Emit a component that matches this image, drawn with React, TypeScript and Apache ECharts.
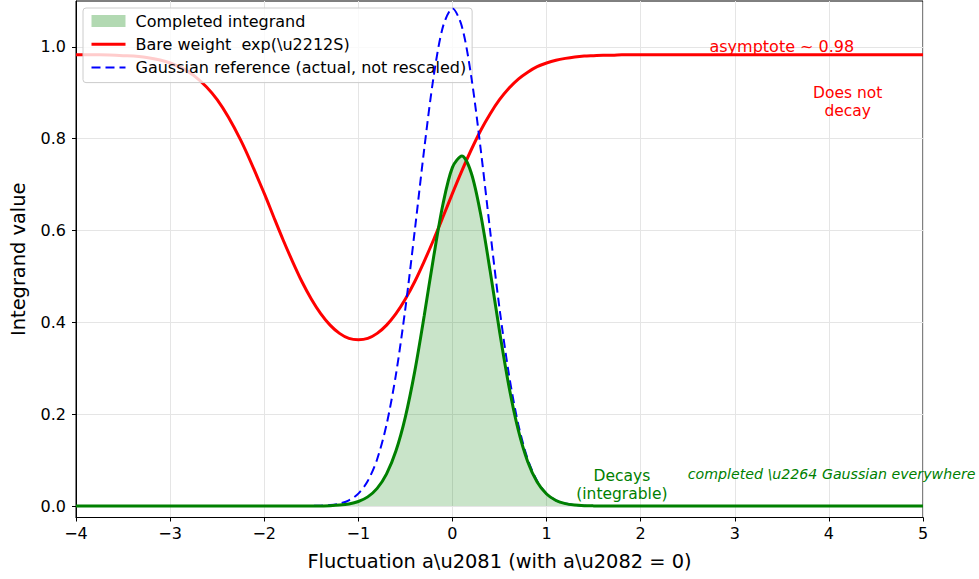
import React, { useEffect, useRef } from 'react';
import * as echarts from 'echarts';

// Fluctuation a1 sample positions
const xs = [
  -4, -3.75, -3.5, -3.25, -3, -2.75, -2.5, -2.25,
  -2, -1.9, -1.8, -1.7, -1.6, -1.5, -1.4, -1.3, -1.2, -1.1,
  -1, -0.9, -0.8, -0.7, -0.6, -0.5, -0.4, -0.3, -0.2, -0.1,
  0, 0.1, 0.2, 0.3, 0.4, 0.5, 0.6, 0.7, 0.8, 0.9,
  1, 1.1, 1.2, 1.3, 1.4, 1.5, 1.6, 1.7, 1.8, 1.9,
  2, 2.25, 2.5, 2.75, 3, 3.5, 4, 4.5, 5,
];

// Bare weight exp(-S)
const bareWeight = [
  0.983, 0.983, 0.981, 0.977, 0.965, 0.938, 0.885, 0.797,
  0.681, 0.630, 0.580, 0.533, 0.489, 0.451, 0.419, 0.394, 0.376, 0.365,
  0.362, 0.365, 0.376, 0.394, 0.419, 0.451, 0.489, 0.533, 0.580, 0.630,
  0.681, 0.730, 0.776, 0.818, 0.854, 0.885, 0.910, 0.930, 0.945, 0.957,
  0.965, 0.971, 0.975, 0.978, 0.980, 0.981, 0.982, 0.982, 0.983, 0.983,
  0.983, 0.983, 0.983, 0.983, 0.983, 0.983, 0.983, 0.983, 0.983,
];

// Gaussian reference (actual, not rescaled)
const gaussianRef = [
  0, 0, 0, 0, 0, 0, 0, 0,
  0, 0, 0, 0, 0.0001, 0.0003, 0.0008, 0.0021, 0.0053, 0.0124,
  0.027, 0.0545, 0.102, 0.1775, 0.2868, 0.4307, 0.6004, 0.7775, 0.9352, 1.0447,
  1.084, 1.0447, 0.9352, 0.7775, 0.6004, 0.4307, 0.2868, 0.1775, 0.102, 0.0545,
  0.027, 0.0124, 0.0053, 0.0021, 0.0008, 0.0003, 0.0001, 0, 0, 0,
  0, 0, 0, 0, 0, 0, 0, 0, 0,
];

// Completed integrand
const completed = [
  0, 0, 0, 0, 0, 0, 0, 0,
  0, 0, 0, 0, 0, 0.0001, 0.0003, 0.0008, 0.002, 0.0045,
  0.0098, 0.0199, 0.0384, 0.07, 0.1203, 0.1943, 0.2938, 0.4143, 0.5426, 0.6583,
  0.7377, 0.7623, 0.7255, 0.6356, 0.5127, 0.3811, 0.261, 0.1651, 0.0964, 0.0521,
  0.0261, 0.0121, 0.0052, 0.0021, 0.0008, 0.0003, 0.0001, 0, 0, 0,
  0, 0, 0, 0, 0, 0, 0, 0, 0,
];

const yTicks = [0, 0.2, 0.4, 0.6, 0.8, 1.0];

const FONT = 'DejaVu Sans';
const NAME_FILL = 'Completed integrand';
const NAME_RED = 'Bare weight  exp(\\u2212S)';
const NAME_BLUE = 'Gaussian reference (actual, not rescaled)';
const DASH = [9, 5];

export default function App() {
  const ref = useRef<HTMLDivElement>(null);
  useEffect(() => {
    const chart = echarts.init(ref.current as HTMLDivElement, null, { renderer: 'svg' });
    const pair = (ys: number[]) => xs.map((x, i) => [x, ys[i]]);
    chart.setOption({
      animation: false,
      backgroundColor: '#ffffff',
      textStyle: { fontFamily: FONT },
      grid: {
        left: 76, right: 56, top: 1, bottom: 61.5,
        show: true, borderColor: '#000', borderWidth: 1, backgroundColor: 'transparent',
      },
      xAxis: {
        type: 'value', min: -4, max: 5, interval: 1,
        axisLine: { show: true, onZero: false, lineStyle: { color: '#000', width: 1 } },
        axisTick: { show: true, inside: false, length: 4, lineStyle: { color: '#000', width: 1 } },
        axisLabel: {
          color: '#000', fontSize: 16, fontFamily: FONT, margin: 8,
          formatter: (v: number) => String(v).replace('-', '\u2212'),
        },
        splitLine: { show: true, lineStyle: { color: '#e5e5e5', width: 1 } },
        name: 'Fluctuation a\\u2081 (with a\\u2082 = 0)',
        nameLocation: 'middle', nameGap: 34,
        nameTextStyle: { fontSize: 19.4, color: '#000', fontFamily: FONT },
      },
      yAxis: {
        type: 'value', min: -0.025, max: 1.1,
        axisLine: { show: true, onZero: false, lineStyle: { color: '#000', width: 1 } },
        axisTick: { show: true, inside: false, length: 4, customValues: yTicks, lineStyle: { color: '#000', width: 1 } },
        axisLabel: {
          color: '#000', fontSize: 16, fontFamily: FONT, margin: 10, customValues: yTicks,
          formatter: (v: number) => v.toFixed(1),
        },
        splitLine: { show: true, lineStyle: { color: '#e5e5e5', width: 1 } },
        name: 'Integrand value',
        nameLocation: 'middle', nameGap: 48,
        nameTextStyle: { fontSize: 19.4, color: '#000', fontFamily: FONT },
      },
      legend: {
        orient: 'vertical', left: 83, top: 8,
        itemWidth: 34, itemHeight: 12, itemGap: 7.3,
        padding: [5, 6, 7, 7],
        backgroundColor: 'rgba(255,255,255,0.8)',
        borderColor: '#cccccc', borderWidth: 1, borderRadius: 3,
        textStyle: { fontSize: 16, color: '#000', fontFamily: FONT, padding: [0, 0, 0, 5] },
        data: [
          { name: NAME_FILL, icon: 'rect', itemStyle: { color: 'rgba(0,128,0,0.3)' } },
          { name: NAME_RED, itemStyle: { opacity: 0 }, lineStyle: { color: '#ff0000', width: 3 } },
          { name: NAME_BLUE, itemStyle: { opacity: 0 }, lineStyle: { color: '#0000ff', width: 2, type: DASH } },
        ],
      },
      series: [
        {
          name: NAME_FILL, type: 'line', data: pair(completed), symbol: 'none', showSymbol: false,
          smooth: 0.3, lineStyle: { width: 0, opacity: 0 },
          itemStyle: { color: 'rgba(0,128,0,0.3)' },
          areaStyle: { color: 'rgba(0,128,0,0.3)', origin: 0 }, z: 2,
        },
        {
          name: NAME_RED, type: 'line', data: pair(bareWeight), symbol: 'none', showSymbol: false,
          smooth: 0.3, lineStyle: { color: '#ff0000', width: 3 }, itemStyle: { color: '#ff0000' }, z: 3,
        },
        {
          name: NAME_BLUE, type: 'line', data: pair(gaussianRef), symbol: 'none', showSymbol: false,
          smooth: 0.3, lineStyle: { color: '#0000ff', width: 2, type: DASH }, itemStyle: { color: '#0000ff' }, z: 4,
        },
        {
          name: 'completed line', type: 'line', data: pair(completed), symbol: 'none', showSymbol: false,
          smooth: 0.3, lineStyle: { color: '#008000', width: 3 }, itemStyle: { color: '#008000' }, z: 5,
        },
      ],
    });

    const p = (x: number, y: number) => chart.convertToPixel({ gridIndex: 0 }, [x, y]) as number[];
    const a1 = p(3.5, 1.0);
    const a2 = p(4.2, 0.88);
    const a3 = p(1.8, 0.045);
    const a4 = p(2.5, 0.07);
    chart.setOption({
      graphic: [
        {
          type: 'text', x: a1[0], y: a1[1], z: 10,
          style: { text: 'asymptote ~ 0.98', fill: '#ff0000', font: `16px "${FONT}"`, align: 'center', verticalAlign: 'middle' },
        },
        {
          type: 'text', x: a2[0], y: a2[1], z: 10,
          style: { text: 'Does not\ndecay', fill: '#ff0000', font: `15.5px "${FONT}"`, lineHeight: 18, align: 'center', verticalAlign: 'middle' },
        },
        {
          type: 'text', x: a3[0], y: a3[1], z: 10,
          style: { text: 'Decays\n(integrable)', fill: '#008000', font: `15.5px "${FONT}"`, lineHeight: 18, align: 'center', verticalAlign: 'middle' },
        },
        {
          type: 'text', x: a4[0], y: a4[1], z: 10,
          style: { text: 'completed \\u2264 Gaussian everywhere', fill: '#008000', font: `italic 14.2px "${FONT}"`, align: 'left', verticalAlign: 'middle' },
        },
      ],
    });
    return () => chart.dispose();
  }, []);
  return <div ref={ref} style={{ position: 'fixed', left: 0, top: 0, width: 979, height: 579 }} />;
}
